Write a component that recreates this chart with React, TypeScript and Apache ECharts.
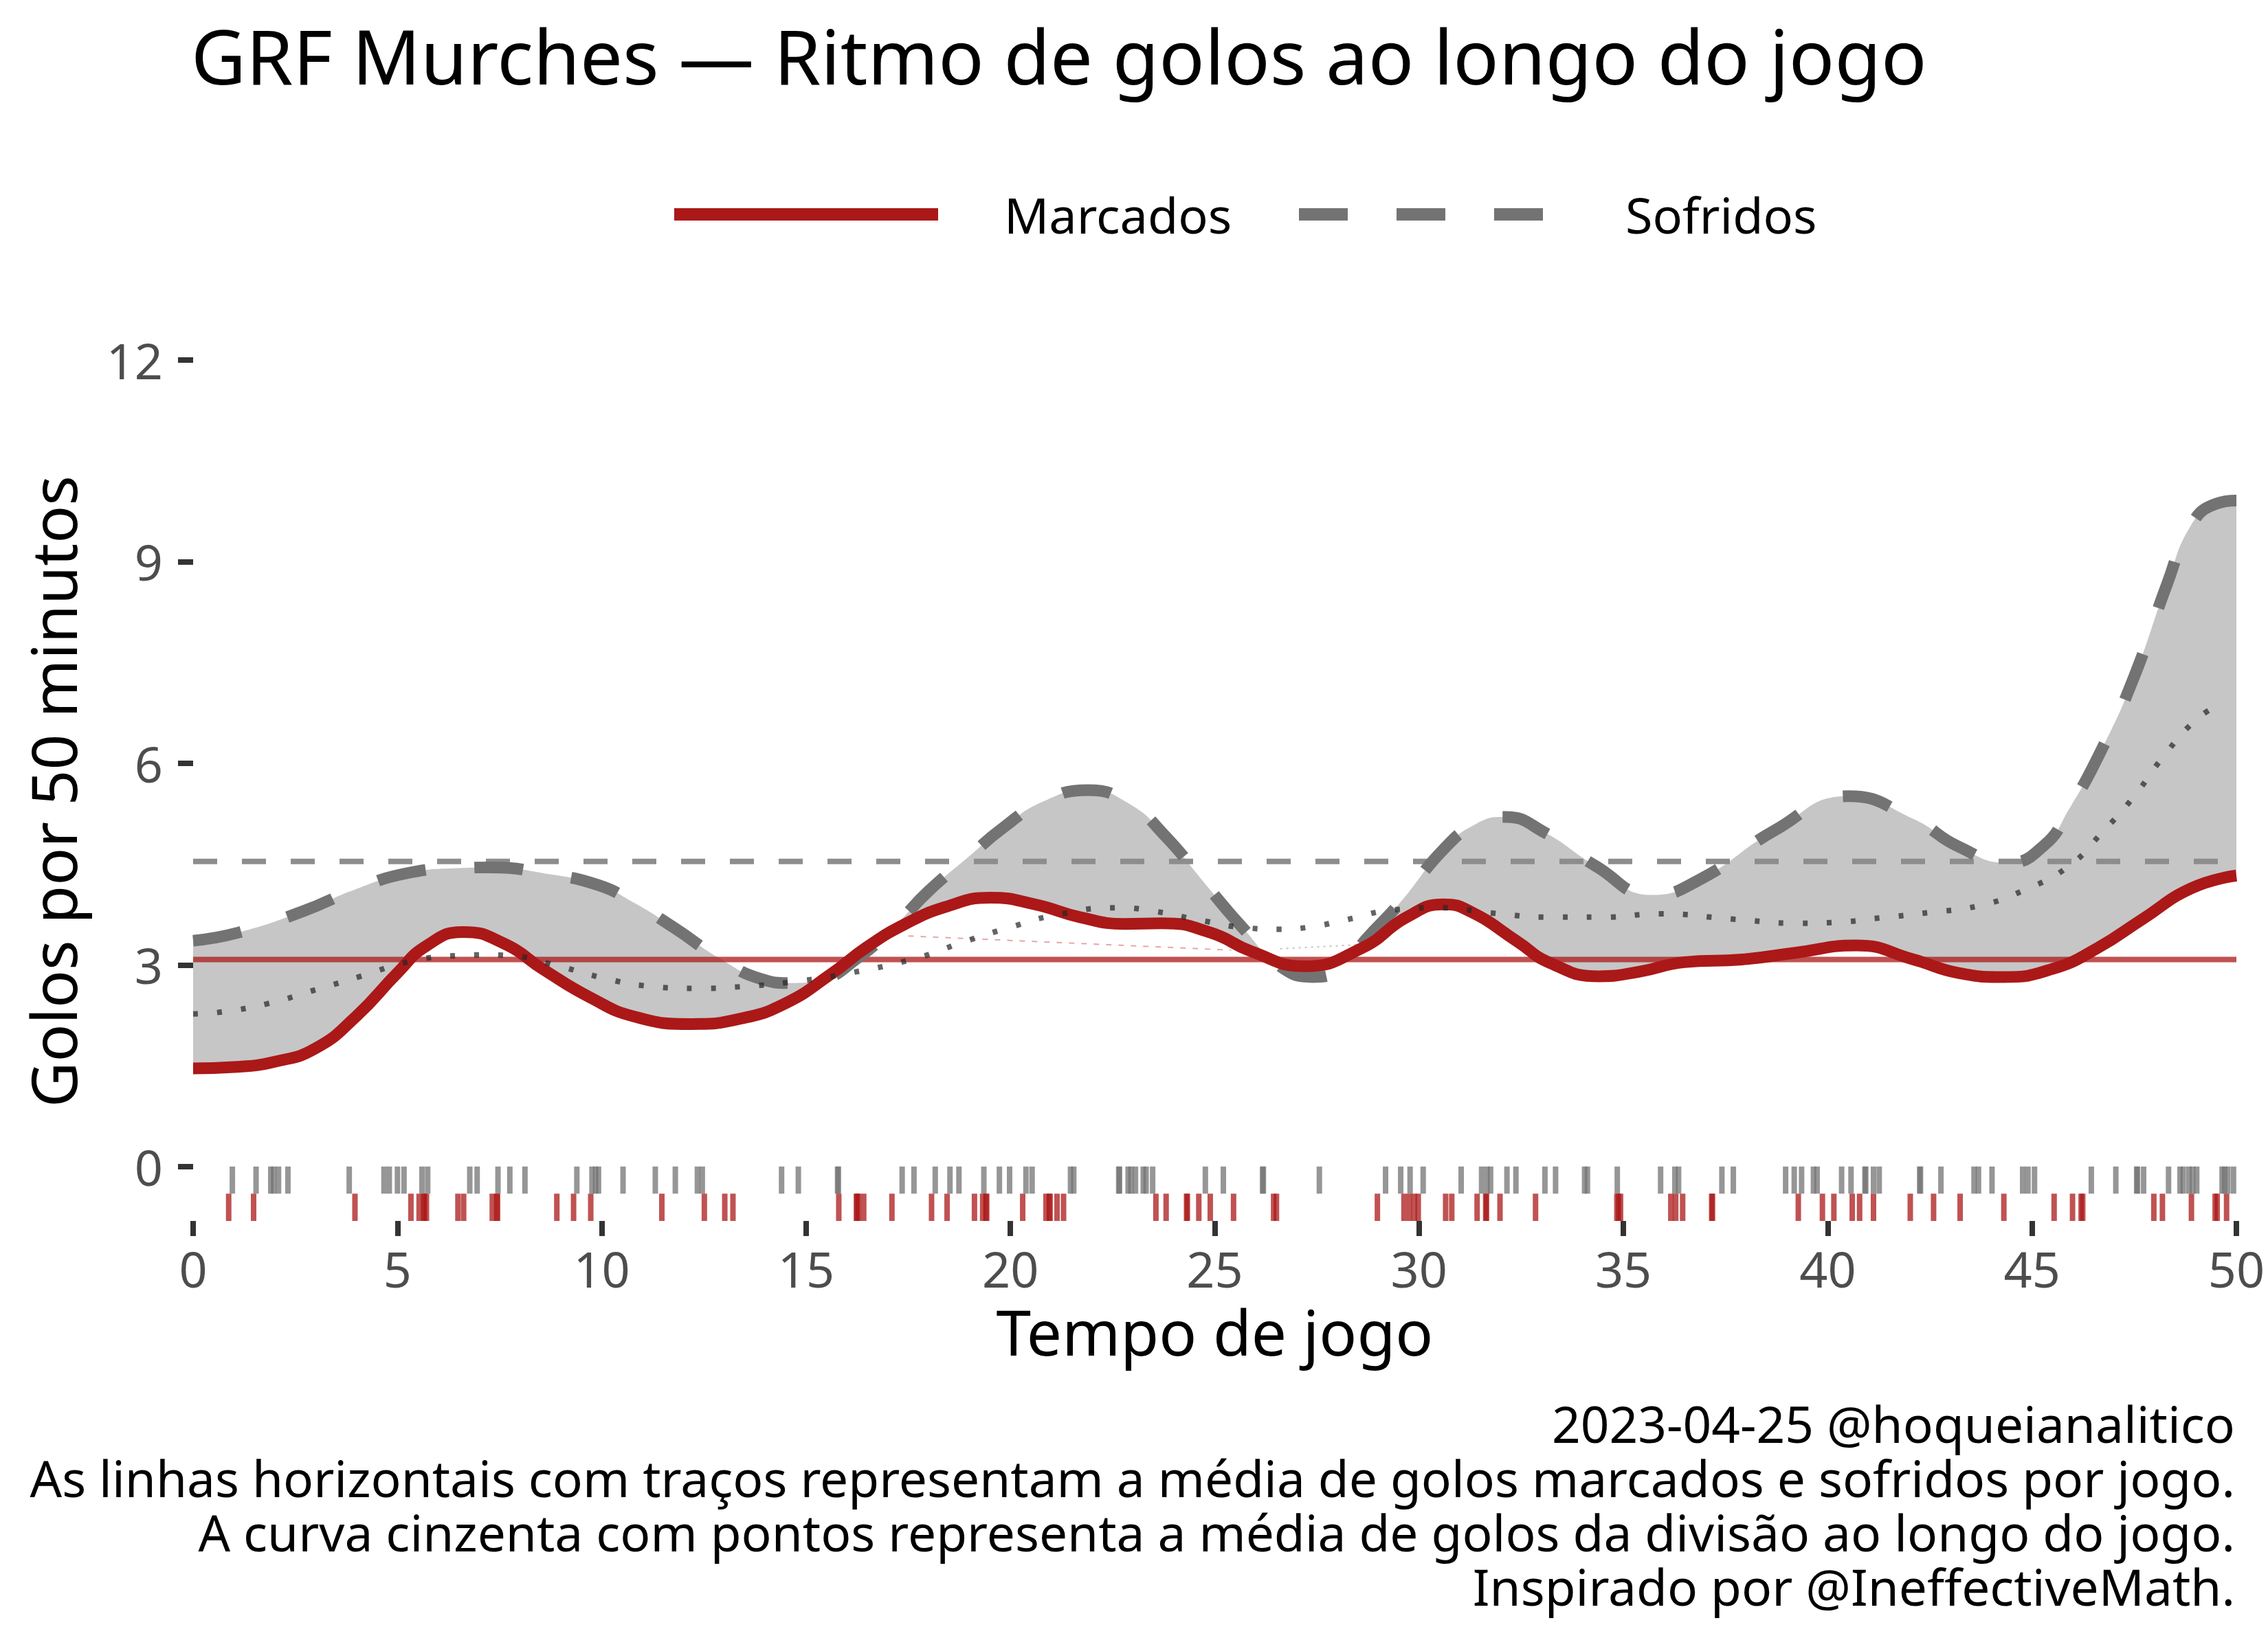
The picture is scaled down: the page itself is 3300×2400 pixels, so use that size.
import React, { useEffect, useRef } from "react";
import * as echarts from "echarts";

// ---- data ----
// Marcados (goals scored per 50 min), smoothed curve
const marcadosX: number[] = [
  0, 1, 2, 3, 4, 5, 5.7, 6.6, 7.6, 8.6, 9.7, 10.8, 12.2, 13.4, 14.5, 15.6, 16.5, 17.4, 18.4, 19.5,
  20.6, 21.7, 22.8, 23.7, 24.9, 25.9, 27.2, 28.6, 29.7, 30.6, 31.3, 32.4, 33.2, 34.4, 35.4, 36.5,
  37.9, 39.2, 40.7, 42.1, 43.2, 44.3, 45.5, 46.6, 47.7, 48.9, 50,
];
const marcadosY: number[] = [
  1.46, 1.48, 1.56, 1.76, 2.24, 2.88, 3.28, 3.49, 3.32, 2.92, 2.52, 2.23, 2.12, 2.2, 2.43, 2.86,
  3.27, 3.6, 3.86, 4.0, 3.9, 3.71, 3.61, 3.62, 3.48, 3.2, 2.98, 3.25, 3.71, 3.9, 3.78, 3.35, 3.03,
  2.83, 2.9, 3.04, 3.08, 3.18, 3.29, 3.08, 2.88, 2.82, 2.94, 3.25, 3.68, 4.14, 4.33,
];

// Sofridos (goals conceded per 50 min)
const sofridosX: number[] = [
  0, 1.1, 2.7, 4, 5.2, 6.5, 7.3, 8.6, 9.9, 10.8, 11.8, 12.9, 13.9, 14.6, 15.3, 16.3, 17.2, 18, 19,
  19.8, 20.8, 21.9, 22.9, 23.8, 24.8, 25.7, 26.6, 27.4, 28.1, 28.7, 29.5, 30.6, 31.4, 32.1, 33.1,
  34.3, 35.7, 36.9, 38.7, 40.5, 42.1, 43.2, 44.4, 45.3, 45.9, 46.7, 47.5, 48.3, 48.9, 49.5, 50,
];
const sofridosY: number[] = [
  3.36, 3.48, 3.8, 4.13, 4.36, 4.44, 4.45, 4.36, 4.19, 3.92, 3.54, 3.09, 2.79, 2.73, 2.77, 3.12,
  3.6, 4.1, 4.62, 5.03, 5.43, 5.6, 5.4, 4.91, 4.18, 3.54, 2.98, 2.82, 2.95, 3.38, 3.9, 4.72, 5.1,
  5.2, 4.96, 4.48, 4.04, 4.28, 5.0, 5.51, 5.17, 4.76, 4.52, 4.78, 5.31, 6.2, 7.29, 8.66, 9.55, 9.86,
  9.91,
];

// Division average (dotted curve)
const divisaoX: number[] = [
  0, 0.7, 1.8, 3, 4.1, 5.3, 6.5, 7.1, 7.7, 8.9, 10, 11.2, 12.3, 13.5, 14.7, 15.9, 17.7, 18.8, 20,
  21.1, 22.6, 23.5, 24.6, 25.8, 26.6, 27.4, 28.2, 29.4, 30.5, 31.8, 33.2, 34.5, 35.9, 37.7, 39.3,
  40.1, 41.3, 42.5, 43.7, 44.8, 45.9, 46.7, 47.5, 48.2, 49, 49.6,
];
const divisaoY: number[] = [
  2.27, 2.3, 2.42, 2.63, 2.83, 3.05, 3.14, 3.15, 3.14, 2.99, 2.81, 2.68, 2.65, 2.68, 2.75, 2.86,
  3.1, 3.33, 3.56, 3.74, 3.85, 3.8, 3.67, 3.55, 3.53, 3.57, 3.67, 3.82, 3.85, 3.77, 3.71, 3.71,
  3.76, 3.68, 3.62, 3.63, 3.7, 3.78, 3.88, 4.11, 4.47, 4.96, 5.51, 6.09, 6.64, 6.88,
];

const mediaMarcados = 3.08;
const mediaSofridos = 4.54;

const faintRedX: number[] = [17.5, 25.4];
const faintRedY: number[] = [3.43, 3.22];
const faintGrayX: number[] = [26.6, 28.5];
const faintGrayY: number[] = [3.24, 3.3];

const rugSofridos: number[] = [
  0.96, 1.54, 1.9, 1.97, 2.09, 2.32, 3.82, 4.67, 4.8, 5.0, 5.16, 5.6, 5.74, 6.77, 6.95, 7.46,
  7.75, 8.12, 9.39, 9.76, 9.85, 9.92, 10.52, 11.31, 11.8, 12.34, 12.46, 14.4, 14.81, 15.77, 15.79,
  17.35, 17.64, 18.16, 18.52, 18.74, 19.35, 19.73, 19.98, 20.38, 20.53, 21.47, 21.55, 22.65, 22.67,
  22.88, 22.95, 23.06, 23.25, 23.32, 23.48, 24.77, 25.21, 26.17, 26.19, 27.56, 29.18, 29.55, 29.78,
  30.1, 31.03, 31.53, 31.66, 31.75, 32.15, 32.37, 33.08, 33.34, 34.05, 34.12, 34.85, 35.91, 36.26,
  36.35, 37.41, 37.69, 38.97, 39.18, 39.36, 39.65, 39.74, 40.34, 40.57, 40.91, 40.93, 41.12, 41.26,
  42.25, 42.27, 42.77, 43.58, 43.69, 44.02, 44.77, 44.9, 45.06, 46.45, 47.05, 47.56, 47.58, 47.73,
  48.34, 48.62, 48.7, 48.84, 48.93, 49.03, 49.65, 49.71, 49.79, 49.93,
];

const rugMarcados: number[] = [
  0.87, 1.48, 3.96, 5.33, 5.53, 5.64, 5.66, 5.71, 6.48, 6.62, 7.32, 7.43, 7.45, 8.9, 9.31, 9.73,
  11.47, 12.51, 13.01, 13.21, 15.8, 16.23, 16.25, 16.28, 16.41, 17.1, 18.07, 18.45, 19.12, 19.32,
  19.4, 19.42, 20.3, 20.87, 20.95, 20.97, 21.14, 21.3, 23.56, 23.81, 24.31, 24.33, 24.61, 24.89,
  25.46, 26.44, 26.51, 28.98, 29.63, 29.76, 29.88, 29.98, 30.65, 30.8, 31.42, 31.63, 31.65, 31.98,
  32.85, 34.84, 34.88, 34.93, 36.16, 36.28, 36.45, 37.16, 37.18, 39.28, 39.87, 40.15, 40.6, 40.78,
  41.12, 42.02, 42.59, 43.24, 44.31, 45.54, 45.99, 46.2, 46.24, 47.98, 48.19, 48.9, 49.48, 49.53,
  49.76,
];

const yTicks: number[] = [0, 3, 6, 9, 12];

const TITLE = "GRF Murches — Ritmo de golos ao longo do jogo";
const X_TITLE = "Tempo de jogo";
const Y_TITLE = "Golos por 50 minutos";
const LEGEND_LABELS = ["Marcados", "Sofridos"];
const CAPTION: string[] = [
  "2023-04-25 @hoqueianalitico",
  "As linhas horizontais com traços representam a média de golos marcados e sofridos por jogo.",
  "A curva cinzenta com pontos representa a média de golos da divisão ao longo do jogo.",
  "Inspirado por @IneffectiveMath.",
];

// ---- style ----
const FONT = "Noto Sans";
const RED = "#ab1818";
const GRAY = "#737373";
const FILL = "#c6c6c6";
const Y_MIN = -0.81;
const Y_MAX = 12.48;
const RUG_MID = -0.404;

export default function App() {
  const ref = useRef<HTMLDivElement>(null);

  useEffect(() => {
    if (!ref.current) return;
    const chart = echarts.init(ref.current, undefined, { renderer: "svg" });

    const pairs = (xs: number[], ys: number[]) => xs.map((x, i) => [x, ys[i]]);

    const rugSeries = (vals: number[], y0: number, y1: number, color: string) => ({
      type: "custom",
      silent: true,
      clip: false,
      data: vals.map((v) => [v, y0]),
      encode: { x: 0, y: 1 },
      renderItem: (_p: any, api: any) => {
        const x = api.value(0);
        const a = api.coord([x, y0]);
        const b = api.coord([x, y1]);
        return {
          type: "line",
          shape: { x1: a[0], y1: a[1], x2: b[0], y2: b[1] },
          style: { stroke: color, lineWidth: 8, opacity: 0.75 },
        };
      },
      z: 5,
    });

    const SMOOTH = 0.5;

    chart.setOption({
      animation: false,
      backgroundColor: "#ffffff",
      textStyle: { fontFamily: FONT },
      grid: { left: 281, right: 46, top: 477, bottom: 623, containLabel: false },
      xAxis: {
        type: "value",
        min: 0,
        max: 50,
        interval: 5,
        axisLine: { show: false, onZero: false },
        splitLine: { show: false },
        axisTick: { show: true, length: 22, lineStyle: { color: "#333333", width: 8 } },
        axisLabel: { fontFamily: FONT, fontSize: 72, color: "#4d4d4d", margin: 33 },
        name: X_TITLE,
        nameLocation: "middle",
        nameGap: 161,
        nameTextStyle: { fontFamily: FONT, fontSize: 91, color: "#000000", verticalAlign: "middle" },
      },
      yAxis: {
        type: "value",
        min: Y_MIN,
        max: Y_MAX,
        axisLine: { show: false, onZero: false },
        splitLine: { show: false },
        axisTick: {
          show: true,
          length: 22,
          customValues: yTicks,
          lineStyle: { color: "#333333", width: 8 },
        },
        axisLabel: {
          fontFamily: FONT,
          fontSize: 72,
          color: "#4d4d4d",
          margin: 44,
          customValues: yTicks,
        },
      },
      series: [
        // ribbon between the two curves: grey under Sofridos, white under Marcados
        {
          type: "line",
          data: pairs(sofridosX, sofridosY),
          smooth: SMOOTH,
          symbol: "none",
          lineStyle: { opacity: 0, width: 0 },
          areaStyle: { color: FILL, opacity: 1, origin: "start" },
          silent: true,
          z: 1,
        },
        {
          type: "line",
          data: pairs(marcadosX, marcadosY),
          smooth: SMOOTH,
          symbol: "none",
          lineStyle: { opacity: 0, width: 0 },
          areaStyle: { color: "#ffffff", opacity: 1, origin: "start" },
          silent: true,
          z: 1,
        },
        {
          type: "line",
          data: pairs(faintRedX, faintRedY),
          symbol: "none",
          lineStyle: { color: "rgba(200,60,60,0.45)", width: 2, type: [8, 10] },
          silent: true,
          z: 2,
        },
        {
          type: "line",
          data: pairs(faintGrayX, faintGrayY),
          symbol: "none",
          lineStyle: { color: "rgba(90,90,90,0.35)", width: 2, type: [3, 6] },
          silent: true,
          z: 2,
        },
        {
          type: "line",
          data: [
            [0, mediaMarcados],
            [50, mediaMarcados],
          ],
          symbol: "none",
          lineStyle: { color: RED, opacity: 0.75, width: 8 },
          silent: true,
          z: 2,
        },
        {
          type: "line",
          data: [
            [0, mediaSofridos],
            [50, mediaSofridos],
          ],
          symbol: "none",
          lineStyle: { color: "#8d8d8d", width: 8, type: [35, 36], cap: "butt" },
          silent: true,
          z: 2,
        },
        {
          name: "Sofridos",
          type: "line",
          data: pairs(sofridosX, sofridosY),
          smooth: SMOOTH,
          symbol: "none",
          lineStyle: { color: GRAY, width: 17, type: [71, 71], cap: "butt" },
          z: 3,
        },
        {
          name: "Marcados",
          type: "line",
          data: pairs(marcadosX, marcadosY),
          smooth: SMOOTH,
          symbol: "none",
          lineStyle: { color: RED, width: 17 },
          z: 3,
        },
        {
          name: "Divisão",
          type: "line",
          data: pairs(divisaoX, divisaoY),
          smooth: SMOOTH,
          symbol: "none",
          lineStyle: { color: "rgba(40,40,40,0.72)", width: 8, type: [7, 28], cap: "butt" },
          z: 4,
        },
        rugSeries(rugSofridos, 0, RUG_MID, GRAY),
        rugSeries(rugMarcados, RUG_MID, Y_MIN, RED),
      ],
      graphic: [
        {
          type: "text",
          x: 278,
          y: 80,
          style: {
            text: TITLE,
            fontFamily: FONT,
            fontSize: 110,
            fill: "#000000",
            align: "left",
            verticalAlign: "middle",
          },
        },
        {
          type: "text",
          x: 77,
          y: 1152,
          rotation: Math.PI / 2,
          style: {
            text: Y_TITLE,
            fontFamily: FONT,
            fontSize: 91,
            fill: "#000000",
            align: "center",
            verticalAlign: "middle",
          },
        },
        // legend
        {
          type: "line",
          shape: { x1: 981, y1: 312, x2: 1365, y2: 312 },
          style: { stroke: RED, lineWidth: 18 },
        },
        {
          type: "text",
          x: 1461,
          y: 312,
          style: {
            text: LEGEND_LABELS[0],
            fontFamily: FONT,
            fontSize: 72,
            fill: "#000000",
            align: "left",
            verticalAlign: "middle",
          },
        },
        {
          type: "line",
          shape: { x1: 1890, y1: 312, x2: 2272, y2: 312 },
          style: { stroke: GRAY, lineWidth: 18, lineDash: [71, 71] },
        },
        {
          type: "text",
          x: 2365,
          y: 312,
          style: {
            text: LEGEND_LABELS[1],
            fontFamily: FONT,
            fontSize: 72,
            fill: "#000000",
            align: "left",
            verticalAlign: "middle",
          },
        },
        // caption as one multi-line text block
        {
          type: "text",
          x: 3252,
          y: 2031.4,
          style: {
            text: CAPTION.join("\n"),
            fontFamily: FONT,
            fontSize: 73,
            lineHeight: 79.3,
            fill: "#000000",
            align: "right",
            verticalAlign: "top",
          },
        },
      ],
    });

    return () => chart.dispose();
  }, []);

  return (
    <div
      ref={ref}
      style={{ position: "fixed", left: 0, top: 0, width: 3300, height: 2400, background: "#fff" }}
    />
  );
}
